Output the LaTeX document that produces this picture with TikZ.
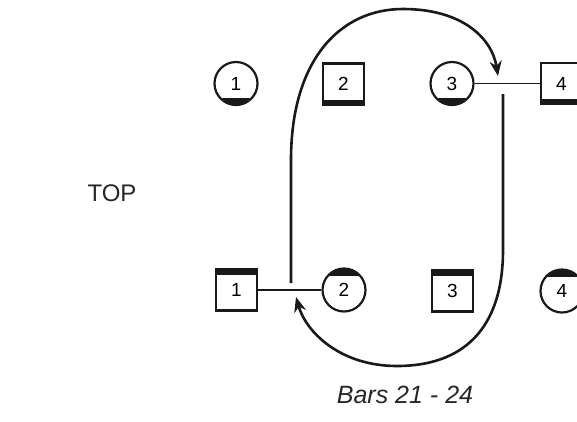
\documentclass[tikz,border=0pt]{standalone}
\usepackage{fontspec}
\setmainfont{Liberation Sans}
\usetikzlibrary{arrows.meta}
\begin{document}
\begin{tikzpicture}[x=1pt,y=-1pt,
  sq/.style={draw=black!90, line width=2.2pt, minimum size=41pt, inner sep=0pt, font=\fontsize{19}{19}\selectfont},
  cc/.style={circle, draw=black!90, line width=2.2pt, minimum size=43pt, inner sep=0pt, font=\fontsize{19}{19}\selectfont},
  darkbottom/.style={path picture={\fill[black!90] (path picture bounding box.south west) rectangle ([yshift=#1]path picture bounding box.south east);}},
  darktop/.style={path picture={\fill[black!90] (path picture bounding box.north west) rectangle ([yshift=-#1]path picture bounding box.north east);}},
  link/.style={draw=black!90, line width=1.8pt},
  move/.style={draw=black!90, line width=2.6pt},
  movearrow/.style={move, -{Stealth[length=15pt,width=12pt]}},
  label/.style={font=\fontsize{24}{24}\selectfont, text=black!85}
]
\clip (0,0) rectangle (577,421);
\fill[white] (0,0) rectangle (577,421);

% top row
\node[cc, darkbottom=7pt] (c1) at (236,83.5) {1};
\node[sq, darkbottom=5pt] (s2) at (343.5,84) {2};
\node[cc, darkbottom=7pt] (c3) at (452,83.5) {3};
\node[sq, darkbottom=5pt] (s4) at (561.5,83.5) {4};

% bottom row
\node[sq, darktop=5pt] (b1) at (236.5,290) {1};
\node[cc, darktop=7pt] (d2) at (344,290) {2};
\node[sq, darktop=5pt] (b3) at (452.5,291) {3};
\node[cc, darktop=7pt] (d4) at (562,291) {4};

% links
\draw[link] (c3.east) -- (s4.west);
\draw[link] (b1.east) -- (d2.west);

% moves
\coordinate (p1s) at (291,283);
\coordinate (p1e) at (498,76);
\coordinate (p2s) at (503,94);
\coordinate (p2e) at (296,297);

\draw[movearrow] (p1s) -- (291,160) .. controls (291,60) and (340,9) .. (403,9)
   .. controls (462,9) and (492,38) .. (p1e);
\draw[movearrow] (p2s) -- (503,250) .. controls (503,330) and (462,366) .. (397,366)
   .. controls (340,366) and (306,332) .. (p2e);

% labels
\node[label] (top) at (112,193) {TOP};
\node[label, font=\fontsize{25}{25}\selectfont\itshape] (bars) at (405,395) {Bars 21 - 24};
\end{tikzpicture}
\end{document}
